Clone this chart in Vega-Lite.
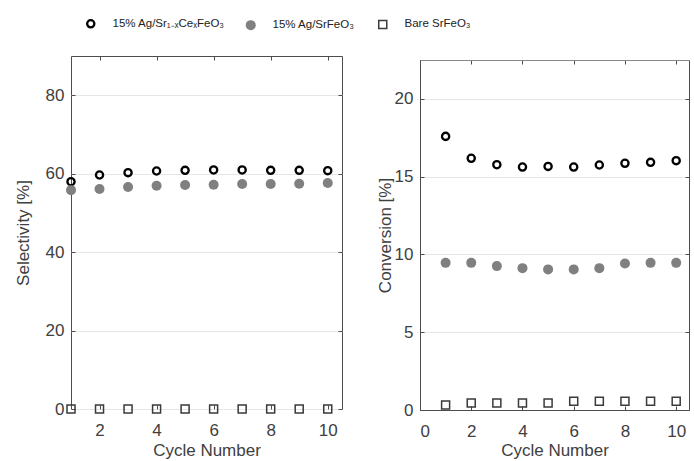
{
  "$schema": "https://vega.github.io/schema/vega-lite/v6.json",
  "padding": {"left": 13, "top": 18, "right": 0, "bottom": 0},
  "background": "white",
  "spacing": 33,
  "config": {
    "font": "Liberation Sans",
    "view": {"stroke": "#4d4d4d", "strokeWidth": 1},
    "axis": {
      "domain": false, "grid": false, "tickSize": -4, "tickColor": "#4d4d4d", "tickWidth": 1,
      "domainColor": "#4d4d4d", "domainWidth": 1,
      "labelFont": "Liberation Sans", "labelFontSize": 17, "labelColor": "#404040",
      "titleFont": "Liberation Sans", "titleFontSize": 17, "titleFontWeight": "normal", "titleColor": "#404040"
    },
    "legend": {
      "orient": "none", "direction": "horizontal", "legendX": 14, "legendY": -38,
      "labelFont": "Liberation Sans", "labelFontSize": 11.5, "labelColor": "#222222",
      "columnPadding": 20, "labelOffset": 16
    }
  },
  "datasets": {
    "sel": [
      {"cycle": 1, "value": 57.95, "series": "15% Ag/Sr₁₋ₓCeₓFeO₃"},
      {"cycle": 2, "value": 59.66, "series": "15% Ag/Sr₁₋ₓCeₓFeO₃"},
      {"cycle": 3, "value": 60.26, "series": "15% Ag/Sr₁₋ₓCeₓFeO₃"},
      {"cycle": 4, "value": 60.68, "series": "15% Ag/Sr₁₋ₓCeₓFeO₃"},
      {"cycle": 5, "value": 60.85, "series": "15% Ag/Sr₁₋ₓCeₓFeO₃"},
      {"cycle": 6, "value": 60.94, "series": "15% Ag/Sr₁₋ₓCeₓFeO₃"},
      {"cycle": 7, "value": 60.94, "series": "15% Ag/Sr₁₋ₓCeₓFeO₃"},
      {"cycle": 8, "value": 60.85, "series": "15% Ag/Sr₁₋ₓCeₓFeO₃"},
      {"cycle": 9, "value": 60.85, "series": "15% Ag/Sr₁₋ₓCeₓFeO₃"},
      {"cycle": 10, "value": 60.77, "series": "15% Ag/Sr₁₋ₓCeₓFeO₃"},
      {"cycle": 1, "value": 55.8, "series": "15% Ag/SrFeO₃"},
      {"cycle": 2, "value": 56.07, "series": "15% Ag/SrFeO₃"},
      {"cycle": 3, "value": 56.58, "series": "15% Ag/SrFeO₃"},
      {"cycle": 4, "value": 56.92, "series": "15% Ag/SrFeO₃"},
      {"cycle": 5, "value": 57.1, "series": "15% Ag/SrFeO₃"},
      {"cycle": 6, "value": 57.18, "series": "15% Ag/SrFeO₃"},
      {"cycle": 7, "value": 57.35, "series": "15% Ag/SrFeO₃"},
      {"cycle": 8, "value": 57.35, "series": "15% Ag/SrFeO₃"},
      {"cycle": 9, "value": 57.44, "series": "15% Ag/SrFeO₃"},
      {"cycle": 10, "value": 57.6, "series": "15% Ag/SrFeO₃"},
      {"cycle": 1, "value": 0, "series": "Bare SrFeO₃"},
      {"cycle": 2, "value": 0, "series": "Bare SrFeO₃"},
      {"cycle": 3, "value": 0, "series": "Bare SrFeO₃"},
      {"cycle": 4, "value": 0, "series": "Bare SrFeO₃"},
      {"cycle": 5, "value": 0, "series": "Bare SrFeO₃"},
      {"cycle": 6, "value": 0, "series": "Bare SrFeO₃"},
      {"cycle": 7, "value": 0, "series": "Bare SrFeO₃"},
      {"cycle": 8, "value": 0, "series": "Bare SrFeO₃"},
      {"cycle": 9, "value": 0, "series": "Bare SrFeO₃"},
      {"cycle": 10, "value": 0, "series": "Bare SrFeO₃"}
    ],
    "conv": [
      {"cycle": 1, "value": 17.59, "series": "15% Ag/Sr₁₋ₓCeₓFeO₃"},
      {"cycle": 2, "value": 16.18, "series": "15% Ag/Sr₁₋ₓCeₓFeO₃"},
      {"cycle": 3, "value": 15.77, "series": "15% Ag/Sr₁₋ₓCeₓFeO₃"},
      {"cycle": 4, "value": 15.62, "series": "15% Ag/Sr₁₋ₓCeₓFeO₃"},
      {"cycle": 5, "value": 15.66, "series": "15% Ag/Sr₁₋ₓCeₓFeO₃"},
      {"cycle": 6, "value": 15.62, "series": "15% Ag/Sr₁₋ₓCeₓFeO₃"},
      {"cycle": 7, "value": 15.75, "series": "15% Ag/Sr₁₋ₓCeₓFeO₃"},
      {"cycle": 8, "value": 15.86, "series": "15% Ag/Sr₁₋ₓCeₓFeO₃"},
      {"cycle": 9, "value": 15.92, "series": "15% Ag/Sr₁₋ₓCeₓFeO₃"},
      {"cycle": 10, "value": 16.03, "series": "15% Ag/Sr₁₋ₓCeₓFeO₃"},
      {"cycle": 1, "value": 9.46, "series": "15% Ag/SrFeO₃"},
      {"cycle": 2, "value": 9.46, "series": "15% Ag/SrFeO₃"},
      {"cycle": 3, "value": 9.25, "series": "15% Ag/SrFeO₃"},
      {"cycle": 4, "value": 9.12, "series": "15% Ag/SrFeO₃"},
      {"cycle": 5, "value": 9.04, "series": "15% Ag/SrFeO₃"},
      {"cycle": 6, "value": 9.04, "series": "15% Ag/SrFeO₃"},
      {"cycle": 7, "value": 9.12, "series": "15% Ag/SrFeO₃"},
      {"cycle": 8, "value": 9.42, "series": "15% Ag/SrFeO₃"},
      {"cycle": 9, "value": 9.46, "series": "15% Ag/SrFeO₃"},
      {"cycle": 10, "value": 9.46, "series": "15% Ag/SrFeO₃"},
      {"cycle": 1, "value": 0.32, "series": "Bare SrFeO₃"},
      {"cycle": 2, "value": 0.45, "series": "Bare SrFeO₃"},
      {"cycle": 3, "value": 0.45, "series": "Bare SrFeO₃"},
      {"cycle": 4, "value": 0.45, "series": "Bare SrFeO₃"},
      {"cycle": 5, "value": 0.45, "series": "Bare SrFeO₃"},
      {"cycle": 6, "value": 0.56, "series": "Bare SrFeO₃"},
      {"cycle": 7, "value": 0.56, "series": "Bare SrFeO₃"},
      {"cycle": 8, "value": 0.56, "series": "Bare SrFeO₃"},
      {"cycle": 9, "value": 0.56, "series": "Bare SrFeO₃"},
      {"cycle": 10, "value": 0.56, "series": "Bare SrFeO₃"}
    ]
  },
  "hconcat": [
    {
      "width": 271,
      "height": 353,
      "data": {"name": "sel"},
      "layer": [
        {
          "mark": {"type": "point", "filled": true, "opacity": 1},
          "encoding": {
            "x": {"field": "cycle", "type": "quantitative", "scale": {"domain": [1, 10.5], "nice": false, "zero": false},
                  "axis": {"values": [2, 4, 6, 8, 10], "title": "Cycle Number", "labelPadding": 17, "titlePadding": 4}},
            "y": {"field": "value", "type": "quantitative", "scale": {"domain": [0, 90], "nice": false},
                  "axis": {"values": [0, 20, 40, 60, 80], "title": "Selectivity [%]", "grid": true, "gridColor": "#e6e6e6", "labelPadding": 11, "titlePadding": 13}},
            "shape": {"field": "series", "type": "nominal", "title": null,
                      "scale": {"domain": ["15% Ag/Sr₁₋ₓCeₓFeO₃", "15% Ag/SrFeO₃", "Bare SrFeO₃"], "range": ["circle", "circle", "square"]}},
            "fill": {"field": "series", "type": "nominal", "title": null,
                     "scale": {"domain": ["15% Ag/Sr₁₋ₓCeₓFeO₃", "15% Ag/SrFeO₃", "Bare SrFeO₃"], "range": ["rgba(255,255,255,0)", "#808080", "rgba(255,255,255,0)"]}},
            "stroke": {"field": "series", "type": "nominal", "title": null,
                       "scale": {"domain": ["15% Ag/Sr₁₋ₓCeₓFeO₃", "15% Ag/SrFeO₃", "Bare SrFeO₃"], "range": ["#000000", "#808080", "#3a3a3a"]}},
            "strokeWidth": {"field": "series", "type": "nominal", "title": null,
                            "scale": {"type": "ordinal", "domain": ["15% Ag/Sr₁₋ₓCeₓFeO₃", "15% Ag/SrFeO₃", "Bare SrFeO₃"], "range": [2.3, 0, 1.5]}},
            "size": {"field": "series", "type": "nominal", "title": null,
                     "scale": {"type": "ordinal", "domain": ["15% Ag/Sr₁₋ₓCeₓFeO₃", "15% Ag/SrFeO₃", "Bare SrFeO₃"], "range": [52, 100, 64]}}
          }
        },
        {
          "mark": {"type": "point", "opacity": 0},
          "encoding": {
            "x": {"field": "cycle", "type": "quantitative", "axis": {"orient": "top", "values": [2, 4, 6, 8, 10], "labels": false, "title": null}},
            "y": {"field": "value", "type": "quantitative", "axis": {"orient": "right", "values": [0, 20, 40, 60, 80], "labels": false, "title": null}}
          }
        }
      ],
      "resolve": {"axis": {"x": "independent", "y": "independent"}}
    },
    {
      "width": 269,
      "height": 354,
      "view": {"stroke": null},
      "data": {"name": "conv"},
      "layer": [
        {
          "mark": {"type": "point", "filled": true, "opacity": 1},
          "encoding": {
            "x": {"field": "cycle", "type": "quantitative", "scale": {"domain": [0, 10.5], "nice": false, "zero": false},
                  "axis": {"values": [0, 2, 4, 6, 8, 10], "title": "Cycle Number", "domain": true, "labelPadding": 17, "titlePadding": 3}},
            "y": {"field": "value", "type": "quantitative", "scale": {"domain": [0, 22.5], "nice": false, "range": [354, 4]},
                  "axis": {"values": [0, 5, 10, 15, 20], "title": "Conversion [%]", "domain": true, "grid": true, "gridColor": "#e6e6e6", "labelPadding": 11, "titlePadding": 0}},
            "shape": {"field": "series", "type": "nominal", "title": null,
                      "scale": {"domain": ["15% Ag/Sr₁₋ₓCeₓFeO₃", "15% Ag/SrFeO₃", "Bare SrFeO₃"], "range": ["circle", "circle", "square"]}},
            "fill": {"field": "series", "type": "nominal", "title": null,
                     "scale": {"domain": ["15% Ag/Sr₁₋ₓCeₓFeO₃", "15% Ag/SrFeO₃", "Bare SrFeO₃"], "range": ["rgba(255,255,255,0)", "#808080", "rgba(255,255,255,0)"]}},
            "stroke": {"field": "series", "type": "nominal", "title": null,
                       "scale": {"domain": ["15% Ag/Sr₁₋ₓCeₓFeO₃", "15% Ag/SrFeO₃", "Bare SrFeO₃"], "range": ["#000000", "#808080", "#3a3a3a"]}},
            "strokeWidth": {"field": "series", "type": "nominal", "title": null,
                            "scale": {"type": "ordinal", "domain": ["15% Ag/Sr₁₋ₓCeₓFeO₃", "15% Ag/SrFeO₃", "Bare SrFeO₃"], "range": [2.3, 0, 1.5]}},
            "size": {"field": "series", "type": "nominal", "title": null,
                     "scale": {"type": "ordinal", "domain": ["15% Ag/Sr₁₋ₓCeₓFeO₃", "15% Ag/SrFeO₃", "Bare SrFeO₃"], "range": [52, 100, 64]}}
          }
        },
        {
          "mark": {"type": "point", "opacity": 0},
          "encoding": {
            "x": {"field": "cycle", "type": "quantitative", "axis": {"orient": "top", "offset": -4, "domain": true, "domainColor": "#888888", "values": [0, 2, 4, 6, 8, 10], "labels": false, "title": null}},
            "y": {"field": "value", "type": "quantitative", "axis": {"orient": "right", "domain": true, "values": [0, 5, 10, 15, 20], "labels": false, "title": null}}
          }
        }
      ],
      "resolve": {"axis": {"x": "independent", "y": "independent"}}
    }
  ]
}
